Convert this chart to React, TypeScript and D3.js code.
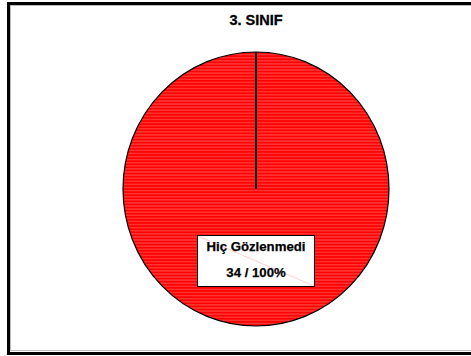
import React from "react";
import * as d3 from "d3";

const title = "3. SINIF";
const categories = ["Hiç Gözlenmedi"];
const counts = [34];
const percents = ["100%"];

const W = 471;
const H = 356;

export default function App() {
  const cx = 256;
  const cy = 189;
  const rx = 133;
  const ry = 137;
  const pie = d3.pie<number>().sort(null)(counts);
  const arc = d3.arc<d3.PieArcDatum<number>>().innerRadius(0).outerRadius(rx);
  const a0 = pie[0].startAngle;
  const lx = Math.sin(a0) * rx;
  const ly = -Math.cos(a0) * rx;
  return (
    <svg
      width={W}
      height={H}
      style={{ position: "absolute", left: 0, top: 0, background: "#fff" }}
      fontFamily="'Liberation Sans', Arial, sans-serif"
    >
      <defs>
        <pattern id="stripes" width="4" height="3" patternUnits="userSpaceOnUse">
          <rect width="4" height="3" fill="#ff0000" />
          <rect y="1" width="4" height="1" fill="#ff4a4a" />
        </pattern>
      </defs>
      <rect x={8.5} y={3.5} width={W} height={350} fill="#fff" stroke="#000" strokeWidth={3} />
      <rect x={10.5} y={5.5} width={W} height={345} fill="none" stroke="#bbb" strokeWidth={1} />
      <text x={cx} y={25} textAnchor="middle" fontSize={14.5} fontWeight="bold" stroke="#000" strokeWidth={0.3}>
        {title}
      </text>
      <g transform={`translate(${cx},${cy}) scale(1,${ry / rx})`}>
        {pie.map((d, i) => (
          <path
            key={i}
            d={arc(d) || ""}
            fill="url(#stripes)"
            stroke="#000"
            strokeWidth={1.2}
            vectorEffect="non-scaling-stroke"
          />
        ))}
        <line x1={0} y1={0} x2={lx} y2={ly} stroke="#000" strokeWidth={2} vectorEffect="non-scaling-stroke" />
      </g>
      <g>
        <rect x={197.5} y={235.5} width={117} height={51} fill="#fff" stroke="#000" strokeWidth={1} />
        <line x1={198} y1={236} x2={314} y2={286} stroke="#ffb0b0" strokeWidth={0.6} />
        <text x={256} y={251} textAnchor="middle" fontSize={13.2} fontWeight="bold" stroke="#000" strokeWidth={0.25}>
          {categories[0]}
        </text>
        <text x={256} y={277} textAnchor="middle" fontSize={13.2} fontWeight="bold" stroke="#000" strokeWidth={0.25}>
          {`${counts[0]} / ${percents[0]}`}
        </text>
      </g>
    </svg>
  );
}
